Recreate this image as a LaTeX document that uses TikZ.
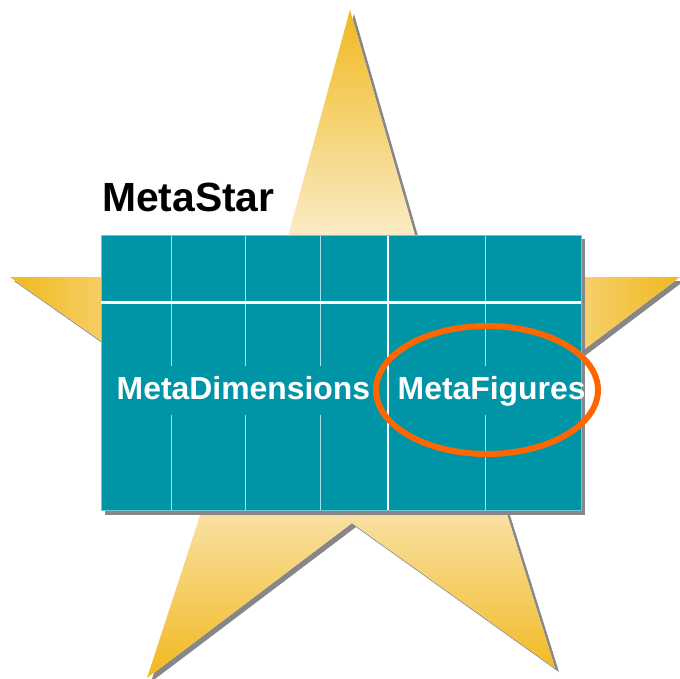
\documentclass[tikz,border=0pt]{standalone}
\usepackage{fontspec}
\setmainfont{Liberation Sans}
\definecolor{gold}{HTML}{F1B91E}
\definecolor{cream}{HTML}{FDF4E6}
\definecolor{tealfill}{HTML}{0095A6}
\definecolor{tealedge}{HTML}{6CC9D2}
\definecolor{shadowgray}{HTML}{878787}
\definecolor{thinline}{HTML}{A8E0E6}
\definecolor{ringorange}{HTML}{FF6600}
\newcommand\starshape{(350,10) -- (427,277) -- (680,277) -- (480,428) -- (555,668) -- (352,523) -- (147,678) -- (228,430) -- (10,277) -- (277,277) -- cycle}
\tikzset{
  celltext/.style={anchor=base west, inner sep=0pt, text=white, font=\bfseries\fontsize{31.9}{36}\selectfont},
  thingrid/.style={thinline, line width=1},
  thickgrid/.style={white, line width=2.6}
}
\begin{document}
\begin{tikzpicture}[x=1pt,y=-1pt]
\useasboundingbox (0,0) rectangle (680,679);
% star shadow
\fill[shadowgray, shift={(4,4)}] \starshape;
% star with gradients
\begin{scope}
\clip \starshape;
\fill[cream] (0,0) rectangle (680,679);
\shade[top color=gold, bottom color=cream] (0,10) rectangle (680,277);
\shade[left color=gold, right color=cream] (10,277) rectangle (277,430);
\shade[left color=cream, right color=gold] (427,277) rectangle (680,430);
\shade[top color=cream, bottom color=gold] (0,430) rectangle (680,678);
\end{scope}
% grid table
\fill[shadowgray] (105,239) rectangle (585,515);
\fill[tealfill] (101,235) rectangle (581,510);
\draw[tealedge, line width=0.8] (101,235) rectangle (581,510);
\foreach \gx in {171.5,245.5,320,485}{
  \draw[thingrid] (\gx,236) -- (\gx,366) (\gx,415) -- (\gx,510);
}
\draw[thickgrid] (101,302.5) -- (581,302.5);
\draw[thickgrid] (388,236) -- (388,510);
% labels
\node[celltext] (dims) at (116.5,399) {MetaDimensions};
\node[celltext] (figs) at (397.5,399) {MetaFigures};
\draw[ringorange, line width=6] (487,390) ellipse [x radius=111, y radius=64];
\node[anchor=base west, inner sep=0pt, font=\bfseries\fontsize{40.8}{48}\selectfont] (title) at (102,212) {MetaStar};
\end{tikzpicture}
\end{document}
